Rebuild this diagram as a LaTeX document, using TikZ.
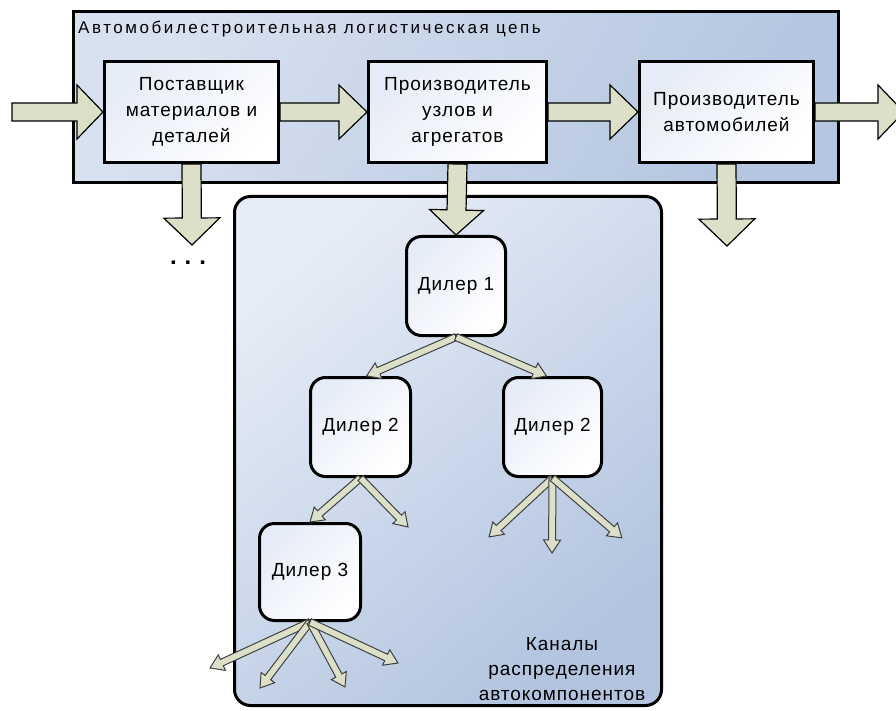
\documentclass[tikz,border=0pt]{standalone}
\usepackage{fontspec}
\setmainfont{Liberation Sans}
\newfontfamily\boxfont[LetterSpace=5]{Liberation Sans}
\newfontfamily\labfont[LetterSpace=15]{Liberation Sans}
\usetikzlibrary{calc}
\definecolor{arrowfill}{HTML}{DDE0C9}
\definecolor{outL}{HTML}{D8E1EF}
\definecolor{outM}{HTML}{C5D3E8}
\definecolor{outR}{HTML}{B4C6E0}
\definecolor{lowL}{HTML}{E6ECF6}
\definecolor{lowM}{HTML}{C4D2E8}
\definecolor{lowR}{HTML}{B2C4DF}
\definecolor{boxL}{HTML}{E6ECF7}
\newcommand\blockarr[6]{%
  \path[#1] let \p1=(#2), \p2=(#3), \n1={atan2(\y2-\y1,\x2-\x1)}, \n2={veclen(\x2-\x1,\y2-\y1)} in
   [shift={(\p1)}, rotate=\n1]
   (0pt,#4pt) -- ({\n2-#6pt},#4pt) -- ({\n2-#6pt},#5pt) -- (\n2,0pt)
   -- ({\n2-#6pt},-#5pt) -- ({\n2-#6pt},-#4pt) -- (0pt,-#4pt) -- cycle;}
\begin{document}
\begin{tikzpicture}[x=1pt,y=-1pt,
  outerbox/.style={draw, line width=3pt, top color=outL, middle color=outM, bottom color=outR, shading angle=60, rectangle, inner sep=0pt},
  lowbox/.style={draw, line width=3pt, top color=lowL, middle color=lowM, bottom color=lowR, shading angle=40, rectangle, rounded corners=16pt, inner sep=0pt},
  chainbox/.style={draw, line width=3pt, top color=boxL, bottom color=white, shading angle=45, rectangle, align=center, inner sep=0pt, font=\boxfont\fontsize{19}{26}\selectfont},
  dealer/.style={chainbox, rounded corners=15pt, minimum height=99pt},
  lbl/.style={font=\labfont\fontsize{17}{20}\selectfont, inner sep=0pt},
  bigarr/.style={draw=black, line width=1.2pt, fill=arrowfill},
  thinarr/.style={draw=black!75, line width=1pt, fill=arrowfill},
]
\useasboundingbox (0,0) rectangle (896,711);
\clip (0,0) rectangle (896,711);
\fill[white] (0,0) rectangle (896,711);

% outer chain box
\node[outerbox, minimum width=765pt, minimum height=171pt] (chain) at (456,97) {};
\node[lbl, anchor=base west] (chainlbl) at (78,34) {Автомобилестроительная логистическая цепь};

\node[chainbox, minimum width=174pt, minimum height=101pt] (b1) at (191.5,112) {Поставщик\\материалов и\\деталей};
\node[chainbox, minimum width=178pt, minimum height=101pt] (b2) at (457.5,112) {Производитель\\узлов и\\агрегатов};
\node[chainbox, minimum width=174pt, minimum height=101pt] (b3) at (726.5,112) {Производитель\\автомобилей};

% lower box
\node[lowbox, minimum width=427pt, minimum height=509pt] (chan) at (448,451) {};
\node[align=center, font=\boxfont\fontsize{19}{25}\selectfont, inner sep=0pt] (chanlbl) at (562,669) {Каналы\\распределения\\автокомпонентов};

% dealers
\node[dealer, minimum width=99pt] (d1) at (456,286) {Дилер 1};
\node[dealer, minimum width=100pt] (d2a) at (360.5,427) {Дилер 2};
\node[dealer, minimum width=98pt] (d2b) at (552.5,427) {Дилер 2};
\node[dealer, minimum width=101pt, minimum height=97pt] (d3) at (310,572) {Дилер 3};

% free ends
\coordinate (inpt) at (12,112);
\coordinate (outpt) at (904,112);
\coordinate (dn1) at (192,245);
\coordinate (dn3) at (727,246);
\coordinate (e2a) at (408,527);
\coordinate (e2b1) at (489,537);
\coordinate (e2b2) at (552,553);
\coordinate (e2b3) at (622,538);
\coordinate (e31) at (210,668);
\coordinate (e32) at (260,688);
\coordinate (e33) at (345,687);
\coordinate (e34) at (398,663);

% big arrows
\blockarr{bigarr}{inpt}{b1.west}{9}{27}{26}
\blockarr{bigarr}{b1.east}{b2.west}{9}{27}{28}
\blockarr{bigarr}{b2.east}{b3.west}{9}{27}{28}
\blockarr{bigarr}{b3.east}{outpt}{9}{27}{26}
\blockarr{bigarr}{b1.south}{dn1}{9.5}{28}{27}
\blockarr{bigarr}{b2.south}{d1.north}{9.5}{27}{25}
\blockarr{bigarr}{b3.south}{dn3}{9.5}{28}{27}

\node[font=\bfseries\fontsize{24}{24}\selectfont, inner sep=0pt, anchor=base] (dots) at (188,265) {.\hspace{8pt}.\hspace{8pt}.};

% thin arrows
\blockarr{thinarr}{d1.south}{[xshift=6pt]d2a.north}{3.5}{8.5}{13}
\blockarr{thinarr}{d1.south}{[xshift=-6pt]d2b.north}{3.5}{8.5}{13}
\blockarr{thinarr}{d2a.south}{d3.north}{3.5}{8.5}{13}
\blockarr{thinarr}{d2a.south}{e2a}{3.5}{8.5}{13}
\blockarr{thinarr}{d2b.south}{e2b1}{3.5}{8.5}{13}
\blockarr{thinarr}{d2b.south}{e2b2}{3.5}{8.5}{13}
\blockarr{thinarr}{d2b.south}{e2b3}{3.5}{8.5}{13}
\blockarr{thinarr}{d3.south}{e31}{3.5}{8.5}{13}
\blockarr{thinarr}{d3.south}{e32}{3.5}{8.5}{13}
\blockarr{thinarr}{d3.south}{e33}{3.5}{8.5}{13}
\blockarr{thinarr}{d3.south}{e34}{3.5}{8.5}{13}
\end{tikzpicture}
\end{document}
